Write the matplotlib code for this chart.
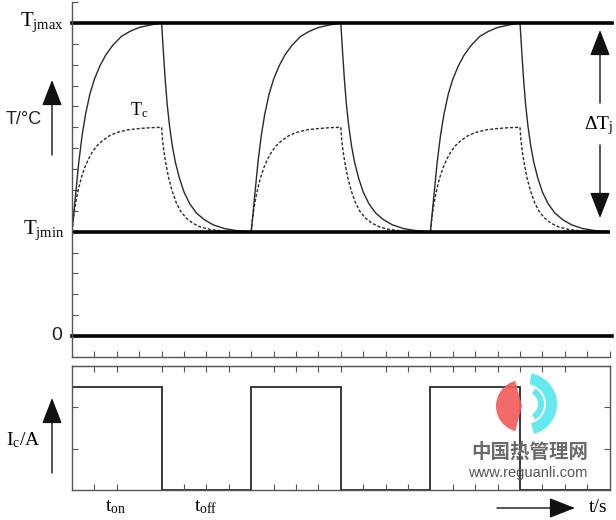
import numpy as np
import matplotlib
matplotlib.use('Agg')
import matplotlib.pyplot as plt
from matplotlib.patches import FancyArrowPatch, Wedge

plt.rcParams['font.family'] = ['Liberation Serif', 'DejaVu Sans']
plt.rcParams['mathtext.fontset'] = 'custom'
plt.rcParams['mathtext.rm'] = 'Liberation Serif'
plt.rcParams['mathtext.it'] = 'Liberation Serif:italic'

# time in grid steps, t_on = t_off = 4 steps
cycle_starts = [0, 8, 16]
t_total = 24
tj_min, tj_max = 5, 15

# junction temperature Tj, one cycle
tj_t = [0.0, 0.1, 0.2, 0.3, 0.45, 0.6, 0.8, 1.0, 1.25, 1.5, 1.8, 2.2, 2.6,
        3.0, 3.5, 4.0,
        4.08, 4.16, 4.25, 4.35, 4.48, 4.62, 4.8, 5.0, 5.25, 5.55, 5.9, 6.3,
        6.8, 7.3, 7.7, 8.0]
tj_v = [5.0, 6.1, 7.2, 8.3, 9.6, 10.6, 11.6, 12.3, 12.95, 13.45, 13.9, 14.35,
        14.6, 14.78, 14.9, 15.0,
        13.6, 12.3, 11.1, 10.1, 9.1, 8.3, 7.55, 6.9, 6.35, 5.9, 5.58, 5.33,
        5.15, 5.06, 5.02, 5.0]

# case temperature Tc, one cycle
tc_t = [0.0, 0.05, 0.12, 0.2, 0.3, 0.42, 0.56, 0.72, 0.9, 1.1, 1.35, 1.65,
        2.0, 2.5, 3.0, 3.5, 4.0,
        4.04, 4.1, 4.2, 4.32, 4.47, 4.65, 4.85, 5.1, 5.4, 5.75, 6.2, 6.8,
        7.5, 8.0]
tc_v = [5.0, 5.5, 6.1, 6.6, 7.1, 7.6, 8.05, 8.45, 8.8, 9.1, 9.35, 9.58,
        9.75, 9.88, 9.94, 9.98, 10.0,
        9.4, 8.85, 8.2, 7.55, 6.95, 6.4, 5.98, 5.65, 5.4, 5.22, 5.1, 5.03,
        5.0, 5.0]

# collector current pulses
ic_edges = [0, 4, 8, 12, 16, 20, 24]
ic_levels = [2.5, 0, 2.5, 0, 2.5, 0]

W, H = 616, 520
fig = plt.figure(figsize=(W / 100, H / 100), dpi=100)

spine_c = '#555555'
line_c = '#2a2a2a'

# ---- temperature panel
ax1 = fig.add_axes([72 / W, 1 - 357 / H, 537.6 / W, 355 / H])
ax1.set_xlim(0, t_total)
ax1.set_ylim(-1, 16)
for s in cycle_starts:
    ax1.plot(np.array(tj_t) + s, tj_v, color=line_c, lw=1.0)
    ax1.plot(np.array(tc_t) + s, tc_v, color=line_c, lw=1.0, ls=(0, (2.2, 1.4)))
ax1.axhline(tj_max, xmax=1.005, color='k', lw=2.6, clip_on=False)
ax1.axhline(tj_min, color='k', lw=2.6)
ax1.axhline(0, xmax=1.005, color='k', lw=2.6, clip_on=False)
ax1.spines['top'].set_visible(False)
ax1.spines['right'].set_visible(False)
for sp in ['left', 'bottom']:
    ax1.spines[sp].set_color(spine_c)
    ax1.spines[sp].set_linewidth(1.0)
ax1.set_xticks(range(1, t_total + 1))
ax1.set_yticks(range(0, 17))
ax1.tick_params(direction='in', length=4, width=0.8, color=spine_c,
                labelleft=False, labelbottom=False)

# ---- current panel
ax2 = fig.add_axes([72 / W, 1 - 490 / H, 537.6 / W, 124 / H])
ax2.set_xlim(0, t_total)
ax2.set_ylim(0, 3)
ax2.stairs(ic_levels, ic_edges, baseline=None, color=line_c, lw=1.3)
for sp in ax2.spines.values():
    sp.set_color(spine_c)
    sp.set_linewidth(1.0)
ax2.set_xticks([1, 2, 5, 6, 7, 9, 10, 11, 13, 14, 15, 17, 18, 19, 21, 22, 23])
ax2.set_yticks([1, 2])
ax2.tick_params(direction='in', length=4, width=0.8, color=spine_c,
                labelleft=False, labelbottom=False, right=True)
top = ax2.secondary_xaxis('top')
top.set_xticks([1, 2, 4, 5, 6, 7, 9, 10, 11, 12, 14, 15, 16, 17, 18, 19, 20, 21, 22])
top.tick_params(direction='in', length=4, width=0.8, color=spine_c, labeltop=False)
top.spines['top'].set_color(spine_c)

# ---- overlay in pixel coords for labels and arrows
ov = fig.add_axes([0, 0, 1, 1], zorder=5)
ov.set_xlim(0, W)
ov.set_ylim(H, 0)
ov.axis('off')
ov.patch.set_alpha(0)

def arrow(x0, y0, x1, y1):
    ov.add_patch(FancyArrowPatch((x0, y0), (x1, y1),
                                 arrowstyle='-|>,head_length=0.9,head_width=0.35',
                                 mutation_scale=18, color='#111111', lw=1.0,
                                 shrinkA=0, shrinkB=0))

ov.text(64, 22, r'T$_{\mathrm{jmax}}$', fontsize=15, ha='right', va='center')
ov.text(64, 230, r'T$_{\mathrm{jmin}}$', fontsize=15, ha='right', va='center')
ov.text(62, 335, '0', fontsize=14, ha='right', va='center',
        family='Liberation Sans', color='#222222')
ov.text(24, 119, 'T/°C', fontsize=13, ha='center', va='center',
        family='Liberation Sans', color='#222222')
arrow(52, 155, 52, 80)
ov.text(139, 110, r'T$_{\mathrm{c}}$', fontsize=13, ha='center', va='center')
arrow(600, 103, 600, 30)
arrow(600, 145, 600, 218)
ov.text(599, 126, r'ΔT$_{\mathrm{j}}$', fontsize=14, ha='center', va='center')

ov.text(23, 440, r'I$_{\mathrm{c}}$/A', fontsize=14, ha='center', va='center')
arrow(52, 473, 52, 398)
ov.text(116, 507, r't$_{\mathrm{on}}$', fontsize=14, ha='center', va='center')
ov.text(206, 507, r't$_{\mathrm{off}}$', fontsize=14, ha='center', va='center')
arrow(497, 508, 575, 508)
ov.text(598, 507, 't/s', fontsize=14, ha='center', va='center')

# watermark
ov.add_patch(Wedge((522, 406), 26, 105, 255, color='#f25a5a', alpha=0.9, lw=0))
ov.add_patch(Wedge((526, 404), 31, -80, 75, width=11, color='#55e6ee', alpha=0.9, lw=0))
ov.add_patch(Wedge((526, 404), 18, -60, 60, width=6, color='#55e6ee', alpha=0.9, lw=0))
ov.text(530, 452, '中国热管理网', fontsize=14, ha='center', va='center',
        family=['Noto Sans CJK SC', 'DejaVu Sans'], weight='bold', color='#6a6a6a')
ov.text(528, 473, 'www.reguanli.com', fontsize=10.5, ha='center', va='center',
        family='Liberation Sans', color='#555555')

fig.savefig('out.png', dpi=100)
